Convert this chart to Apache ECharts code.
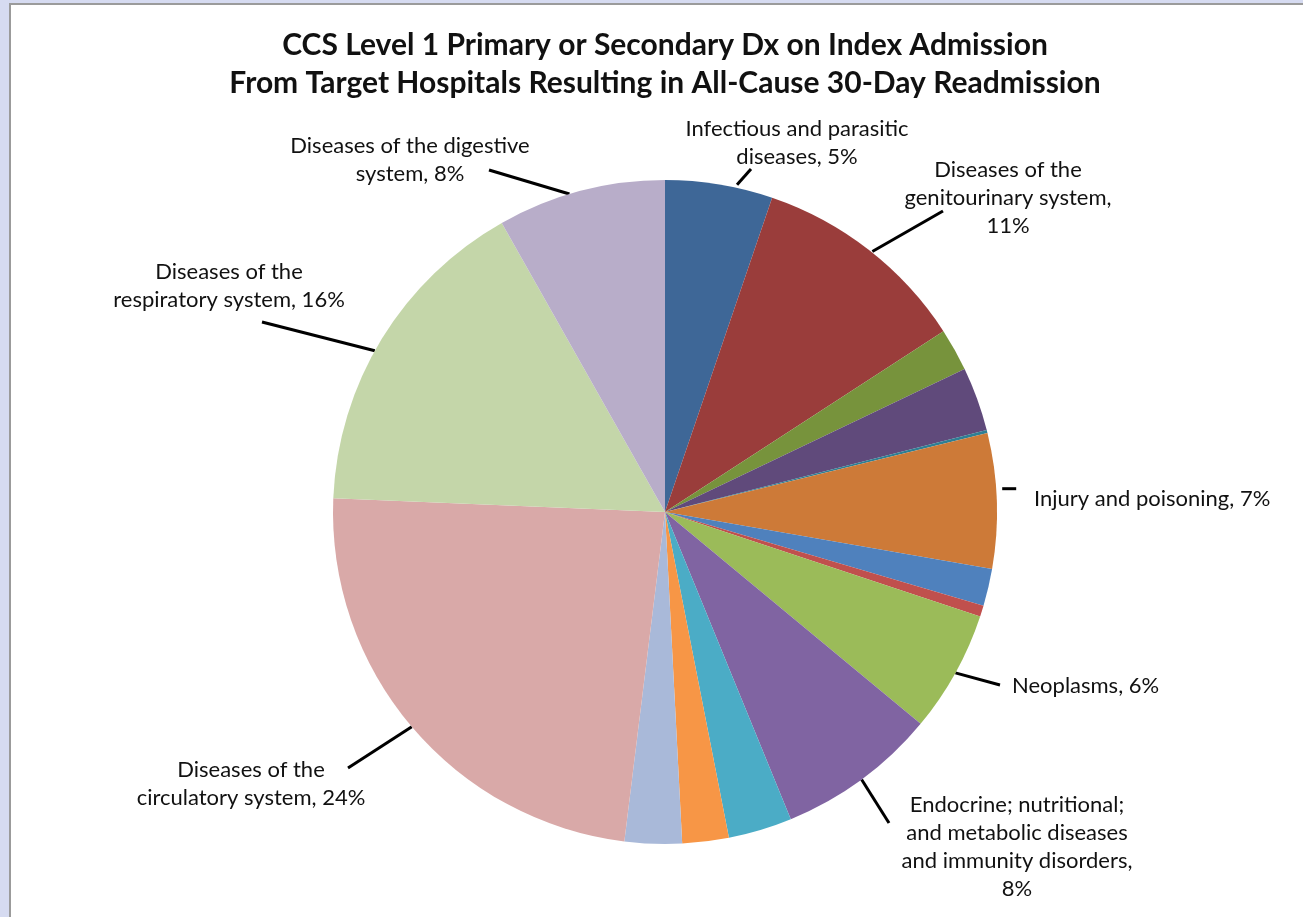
<!DOCTYPE html>
<html><head><meta charset="utf-8">
<script src="https://cdn.jsdelivr.net/npm/echarts@6/dist/echarts.min.js"></script>
<style>
html,body{margin:0;padding:0;width:1303px;height:917px;overflow:hidden;background:#D6DBF1;}
#frame{position:absolute;left:9px;top:3px;right:0;bottom:0;background:#fff;border-left:2px solid #9b9b9b;border-top:2px solid #9b9b9b;}
#chart{position:absolute;left:0;top:0;width:1303px;height:917px;}
</style></head><body>
<div id="frame"></div><div id="chart"></div>
<script>
// ---- data ----
const titleLines = [
  'CCS Level 1 Primary or Secondary Dx on Index Admission',
  'From Target Hospitals Resulting in All-Cause 30-Day Readmission'
];
// slices clockwise from 12 o'clock
const categories = [
  'Infectious and parasitic diseases',
  'Diseases of the genitourinary system',
  'Diseases of the skin and subcutaneous tissue',
  'Diseases of the musculoskeletal system and connective tissue',
  'Certain conditions originating in the perinatal period',
  'Injury and poisoning',
  'Symptoms; signs; and ill-defined conditions',
  'Residual codes; unclassified',
  'Neoplasms',
  'Endocrine; nutritional; and metabolic diseases and immunity disorders',
  'Diseases of the blood and blood-forming organs',
  'Mental illness',
  'Diseases of the nervous system and sense organs',
  'Diseases of the circulatory system',
  'Diseases of the respiratory system',
  'Diseases of the digestive system'
];
const values = [5.23, 10.60, 2.08, 3.12, 0.14, 6.57, 1.81, 0.54, 5.92, 7.80, 3.10, 2.26, 2.78, 23.70, 16.16, 8.18];
// wrapped label text (percent appended); '' = slice not labelled
const labelNames = [
  'Infectious and parasitic\ndiseases, ',
  'Diseases of the\ngenitourinary system,\n',
  '', '', '',
  'Injury and poisoning, ',
  '', '',
  'Neoplasms, ',
  'Endocrine; nutritional;\nand metabolic diseases\nand immunity disorders,\n',
  '', '', '',
  'Diseases of the\ncirculatory system, ',
  'Diseases of the\nrespiratory system, ',
  'Diseases of the digestive\nsystem, '
];

// ---- styles / layout ----
const sliceColors = ['#3E6797','#9A3D3B','#77933C','#604A7B','#2E7F94','#CD7A38',
  '#4F81BD','#C0504D','#9BBB59','#8064A2','#4BACC6','#F79646',
  '#A9B9D9','#D9A9A8','#C4D6A9','#B8ADC9'];
const CX = 665, CY = 512, R = 332;
// label anchor, alignment, leader-line start tweak (degrees along arc, px outward) and end
const labelPlacement = {
  0:  {x: 797,  y: 143, align: 'center', rot: 3,    gap: 3, end: [751, 169]},
  1:  {x: 1008, y: 198, align: 'center', rot: 0.6,  gap: 1, end: [943, 211]},
  5:  {x: 1034, y: 499, align: 'left',   rot: -2,   gap: 6, len: 14},
  8:  {x: 1012, y: 686, align: 'left',   rot: 0,    gap: 0, end: [1000, 685]},
  9:  {x: 1017, y: 847, align: 'center', rot: 0,    gap: 0, end: [889, 823]},
  13: {x: 251,  y: 784, align: 'center', rot: 0,    gap: 0, end: [348, 768]},
  14: {x: 229,  y: 286, align: 'center', rot: -2.4, gap: 0, end: [262, 322]},
  15: {x: 410,  y: 160, align: 'center', rot: -2,   gap: 0, end: [489, 170]}
};

const seriesData = categories.map((name, i) => {
  const d = {name: name, value: values[i], itemStyle: {color: sliceColors[i]}};
  if (!labelNames[i]) { d.label = {show: false}; d.labelLine = {show: false}; }
  return d;
});

const chart = echarts.init(document.getElementById('chart'), null, {renderer: 'canvas'});
chart.setOption({
  animation: false,
  backgroundColor: 'transparent',
  graphic: [
    {type: 'text', x: CX, y: 45, style: {text: titleLines[0], fontFamily: 'Lato', fontWeight: 'bold', fontSize: 30, fill: '#111', align: 'center', verticalAlign: 'middle'}},
    {type: 'text', x: CX, y: 83, style: {text: titleLines[1], fontFamily: 'Lato', fontWeight: 'bold', fontSize: 30, fill: '#111', align: 'center', verticalAlign: 'middle'}}
  ],
  series: [{
    type: 'pie',
    center: [CX, CY],
    radius: R,
    startAngle: 90,
    clockwise: true,
    avoidLabelOverlap: false,
    silent: true,
    itemStyle: {borderWidth: 0},
    label: {
      show: true,
      position: 'outside',
      formatter: p => labelNames[p.dataIndex] + Math.round(p.percent) + '%',
      fontFamily: 'Lato',
      fontSize: 22,
      lineHeight: 28,
      color: '#111'
    },
    labelLine: {show: true, length: 10, length2: 0, lineStyle: {color: '#000', width: 3}},
    labelLayout: function (p) {
      const pl = labelPlacement[p.dataIndex];
      if (!pl) return {};
      const out = {x: pl.x, y: pl.y, align: pl.align, verticalAlign: 'middle'};
      const pts = p.labelLinePoints;
      if (pts && pts.length >= 1) {
        const p0 = pts[0];
        const a = Math.atan2(p0[0] - CX, -(p0[1] - CY)) + pl.rot * Math.PI / 180;
        const r = Math.hypot(p0[0] - CX, p0[1] - CY) + pl.gap;
        const s = [CX + r * Math.sin(a), CY - r * Math.cos(a)];
        const e = pl.end ? pl.end : [s[0] + pl.len, s[1]];
        out.labelLinePoints = [s, e];
      }
      return out;
    },
    data: seriesData
  }]
});
</script>
</body></html>
